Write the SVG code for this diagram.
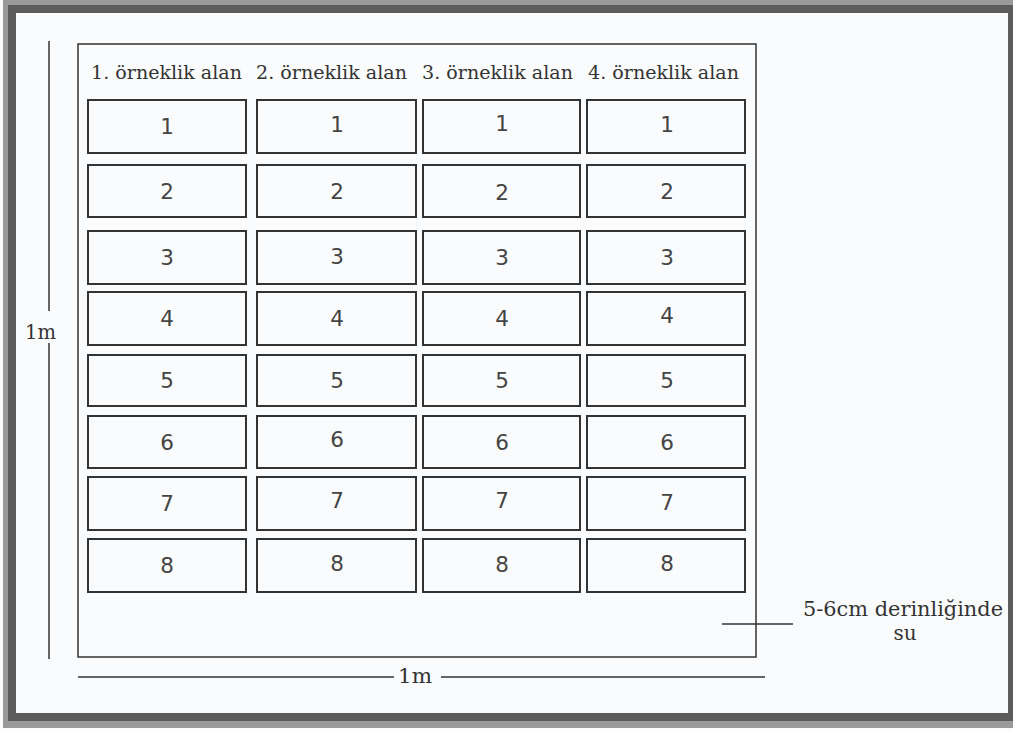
<svg xmlns="http://www.w3.org/2000/svg" width="1013" height="731" viewBox="0 0 1013 731">
<style>
.cell{fill:none;stroke:#333;stroke-width:2}
.num{font-family:"DejaVu Sans",sans-serif;font-size:21.5px;fill:#444;text-anchor:middle}
.hdr{font-family:"DejaVu Serif",serif;font-size:18.5px;fill:#333}
.lbl{font-family:"DejaVu Serif",serif;font-size:20px;fill:#333}
.ln{stroke:#333;stroke-width:1.5;fill:none}
</style>
<rect x="0" y="0" width="1013" height="731" fill="#fafbfc"/>
<g id="frame">
<path d="M3,0H1013V728H3Z M16,13V713H1008V13Z" fill="#9a9a9a" fill-rule="evenodd"/>
<path d="M8,5H1013V721H8Z M16,13V713H1008V13Z" fill="#5c5c5c" fill-rule="evenodd"/>
</g>
<g id="plot">
<rect x="78" y="44" width="678" height="613" class="ln"/>
</g>
<g id="headers">
<text class="hdr" x="91" y="79" textLength="151" lengthAdjust="spacingAndGlyphs">1. örneklik alan</text>
<text class="hdr" x="256" y="79" textLength="151" lengthAdjust="spacingAndGlyphs">2. örneklik alan</text>
<text class="hdr" x="422" y="79" textLength="151" lengthAdjust="spacingAndGlyphs">3. örneklik alan</text>
<text class="hdr" x="588" y="79" textLength="151" lengthAdjust="spacingAndGlyphs">4. örneklik alan</text>
</g>
<g id="col1">
<g id="c1r1"><rect class="cell" x="88" y="100" width="158" height="53"/><text class="num" x="167" y="134">1</text></g>
<g id="c1r2"><rect class="cell" x="88" y="165" width="158" height="52"/><text class="num" x="167" y="199">2</text></g>
<g id="c1r3"><rect class="cell" x="88" y="231" width="158" height="53"/><text class="num" x="167" y="265">3</text></g>
<g id="c1r4"><rect class="cell" x="88" y="292" width="158" height="53"/><text class="num" x="167" y="326">4</text></g>
<g id="c1r5"><rect class="cell" x="88" y="355" width="158" height="51"/><text class="num" x="167" y="388">5</text></g>
<g id="c1r6"><rect class="cell" x="88" y="416" width="158" height="52"/><text class="num" x="167" y="449.5">6</text></g>
<g id="c1r7"><rect class="cell" x="88" y="477" width="158" height="53"/><text class="num" x="167" y="511">7</text></g>
<g id="c1r8"><rect class="cell" x="88" y="539" width="158" height="53"/><text class="num" x="167" y="573">8</text></g>
</g>
<g id="col2">
<g id="c2r1"><rect class="cell" x="257" y="100" width="159" height="53"/><text class="num" x="337" y="131.5">1</text></g>
<g id="c2r2"><rect class="cell" x="257" y="165" width="159" height="52"/><text class="num" x="337" y="198.5">2</text></g>
<g id="c2r3"><rect class="cell" x="257" y="231" width="159" height="53"/><text class="num" x="337" y="263.5">3</text></g>
<g id="c2r4"><rect class="cell" x="257" y="292" width="159" height="53"/><text class="num" x="337" y="326">4</text></g>
<g id="c2r5"><rect class="cell" x="257" y="355" width="159" height="51"/><text class="num" x="337" y="388">5</text></g>
<g id="c2r6"><rect class="cell" x="257" y="416" width="159" height="52"/><text class="num" x="337" y="446.5">6</text></g>
<g id="c2r7"><rect class="cell" x="257" y="477" width="159" height="53"/><text class="num" x="337" y="507.5">7</text></g>
<g id="c2r8"><rect class="cell" x="257" y="539" width="159" height="53"/><text class="num" x="337" y="570.5">8</text></g>
</g>
<g id="col3">
<g id="c3r1"><rect class="cell" x="423" y="100" width="157" height="53"/><text class="num" x="502" y="130.5">1</text></g>
<g id="c3r2"><rect class="cell" x="423" y="165" width="157" height="52"/><text class="num" x="502" y="199.5">2</text></g>
<g id="c3r3"><rect class="cell" x="423" y="231" width="157" height="53"/><text class="num" x="502" y="264.5">3</text></g>
<g id="c3r4"><rect class="cell" x="423" y="292" width="157" height="53"/><text class="num" x="502" y="326">4</text></g>
<g id="c3r5"><rect class="cell" x="423" y="355" width="157" height="51"/><text class="num" x="502" y="388">5</text></g>
<g id="c3r6"><rect class="cell" x="423" y="416" width="157" height="52"/><text class="num" x="502" y="449.5">6</text></g>
<g id="c3r7"><rect class="cell" x="423" y="477" width="157" height="53"/><text class="num" x="502" y="507.5">7</text></g>
<g id="c3r8"><rect class="cell" x="423" y="539" width="157" height="53"/><text class="num" x="502" y="571.5">8</text></g>
</g>
<g id="col4">
<g id="c4r1"><rect class="cell" x="587" y="100" width="158" height="53"/><text class="num" x="667" y="131.5">1</text></g>
<g id="c4r2"><rect class="cell" x="587" y="165" width="158" height="52"/><text class="num" x="667" y="198.5">2</text></g>
<g id="c4r3"><rect class="cell" x="587" y="231" width="158" height="53"/><text class="num" x="667" y="264.5">3</text></g>
<g id="c4r4"><rect class="cell" x="587" y="292" width="158" height="53"/><text class="num" x="667" y="322.5">4</text></g>
<g id="c4r5"><rect class="cell" x="587" y="355" width="158" height="51"/><text class="num" x="667" y="387.5">5</text></g>
<g id="c4r6"><rect class="cell" x="587" y="416" width="158" height="52"/><text class="num" x="667" y="449.5">6</text></g>
<g id="c4r7"><rect class="cell" x="587" y="477" width="158" height="53"/><text class="num" x="667" y="509.5">7</text></g>
<g id="c4r8"><rect class="cell" x="587" y="539" width="158" height="53"/><text class="num" x="667" y="570.5">8</text></g>
</g>
<g id="connectors">
<line class="ln" x1="49" y1="41" x2="49" y2="311"/>
<line class="ln" x1="49" y1="343" x2="49" y2="659"/>
<line class="ln" x1="78" y1="677" x2="394" y2="677"/>
<line class="ln" x1="441" y1="677" x2="765" y2="677"/>
<line class="ln" x1="722" y1="624" x2="793" y2="624"/>
</g>
<g id="labels">
<text class="lbl" x="25" y="339" textLength="31" lengthAdjust="spacingAndGlyphs">1m</text>
<text class="lbl" x="398" y="683" textLength="34" lengthAdjust="spacingAndGlyphs">1m</text>
<text class="lbl" x="803" y="616" textLength="200" lengthAdjust="spacingAndGlyphs">5-6cm derinliğinde</text>
<text class="lbl" x="905" y="640" text-anchor="middle">su</text>
</g>
</svg>
